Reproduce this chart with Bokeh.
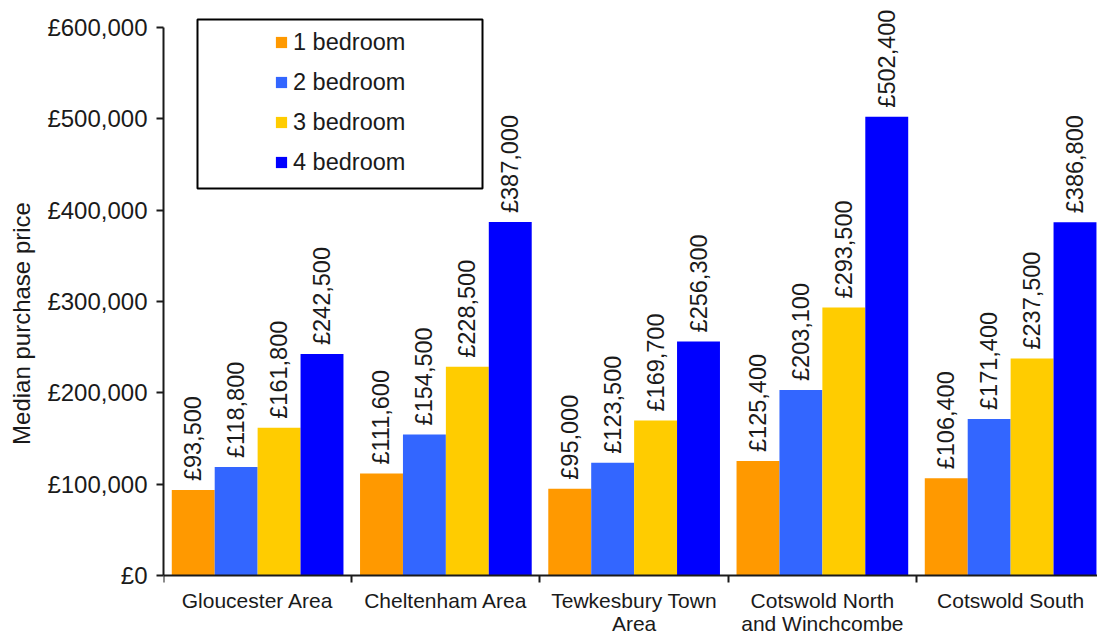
from math import pi
from bokeh.plotting import figure
from bokeh.models import (Range1d, FixedTicker, ColumnDataSource, Legend, LegendItem,
                          BoxAnnotation)
from bokeh.embed import file_html
from bokeh.resources import INLINE
from bokeh.core.properties import value

areas = ["Gloucester Area", "Cheltenham Area", "Tewkesbury Town\nArea",
         "Cotswold North\nand Winchcombe", "Cotswold South"]
series = ["1 bedroom", "2 bedroom", "3 bedroom", "4 bedroom"]
bed1 = [93500, 111600, 95000, 125400, 106400]
bed2 = [118800, 154500, 123500, 203100, 171400]
bed3 = [161800, 228500, 169700, 293500, 237500]
bed4 = [242500, 387000, 256300, 502400, 386800]
y_ticks = [0, 100000, 200000, 300000, 400000, 500000, 600000]
y_tick_labels = ["£0", "£100,000", "£200,000", "£300,000", "£400,000", "£500,000", "£600,000"]
colors = ["#FF9900", "#3366FF", "#FFCC00", "#0000FF"]

FONT = "Liberation Sans"
TXT = "#1a1a1a"
BAR_W = 0.228

# frame runs to the bottom of the canvas; the x axis sits at y = 0 inside it
p = figure(width=1097, height=637,
           x_range=Range1d(0, 4.9615), y_range=Range1d(-67883, 619708),
           output_backend="svg", toolbar_location=None,
           min_border_left=163, min_border_right=0, min_border_top=9, min_border_bottom=0,
           background_fill_color="white", border_fill_color="white")
p.outline_line_color = None
p.xgrid.visible = False
p.ygrid.visible = False

all_vals = [bed1, bed2, bed3, bed4]
renderers = []
for k, (name, vals, col) in enumerate(zip(series, all_vals, colors)):
    xs = [i + 0.5 + (k - 1.5) * BAR_W for i in range(len(areas))]
    src = ColumnDataSource(dict(x=xs, top=vals, label=[f"£{v:,}" for v in vals]))
    r = p.vbar(x="x", top="top", bottom=0, width=BAR_W, source=src,
               fill_color=col, line_color=None)
    renderers.append(r)
    p.text(x="x", y="top", text="label", source=src, angle=pi / 2,
           text_align="left", text_baseline="middle", y_offset=-9,
           text_font=value(FONT), text_font_size="23.5px", text_color=TXT)

# x axis at y = 0 with boundary ticks
xa = p.xaxis[0]
xa.fixed_location = 0
xa.ticker = FixedTicker(ticks=[], minor_ticks=list(range(len(areas) + 1)))
xa.major_tick_line_color = None
xa.major_tick_out = 0
xa.major_tick_in = 0
xa.major_label_text_font_size = "1px"
xa.major_label_standoff = 0
xa.minor_tick_line_color = TXT
xa.minor_tick_line_width = 2
xa.minor_tick_out = 7
xa.minor_tick_in = 0
xa.axis_line_color = TXT
xa.axis_line_width = 2

# category names under the axis
line1 = [a.split("\n")[0] for a in areas]
line2 = [a.split("\n")[1] if "\n" in a else "" for a in areas]
cat_src = ColumnDataSource(dict(x=[i + 0.5 for i in range(len(areas))],
                                y=[0] * len(areas), l1=line1, l2=line2))
for col_name, off in (("l1", 24.5), ("l2", 47.5)):
    p.text(x="x", y="y", text=col_name, source=cat_src, y_offset=off,
           text_align="center", text_baseline="middle",
           text_font=value(FONT), text_font_size="21px", text_color=TXT)

# y axis
ya = p.yaxis[0]
ya.ticker = FixedTicker(ticks=y_ticks, minor_ticks=[])
ya.major_label_overrides = dict(zip(y_ticks, y_tick_labels))
ya.bounds = (0, 600000)
ya.major_tick_out = 7
ya.major_tick_in = 0
ya.major_tick_line_width = 2
ya.major_tick_line_color = TXT
ya.minor_tick_line_color = None
ya.axis_line_color = TXT
ya.axis_line_width = 2
ya.major_label_standoff = 9
ya.major_label_text_font = FONT
ya.major_label_text_font_size = "24px"
ya.major_label_text_color = TXT
ya.axis_label = "Median purchase price"
ya.axis_label_text_font = FONT
ya.axis_label_text_font_size = "24px"
ya.axis_label_text_font_style = "normal"
ya.axis_label_text_color = TXT
ya.axis_label_standoff = 9

# legend frame and legend
p.add_layout(BoxAnnotation(left=0.1806, right=1.6946, bottom=423723, top=608759,
                           fill_color="white", fill_alpha=1.0,
                           line_color="black", line_alpha=1.0, line_width=2))
legend = Legend(items=[LegendItem(label=s, renderers=[r]) for s, r in zip(series, renderers)],
                location=(111, 461), padding=0, margin=0, spacing=12,
                glyph_height=14, glyph_width=14, label_height=28, label_standoff=5,
                label_text_font=FONT, label_text_font_size="23.5px", label_text_color=TXT,
                border_line_color=None, background_fill_alpha=0)
p.add_layout(legend, "center")

open("out.html", "w").write(file_html(p, INLINE))
